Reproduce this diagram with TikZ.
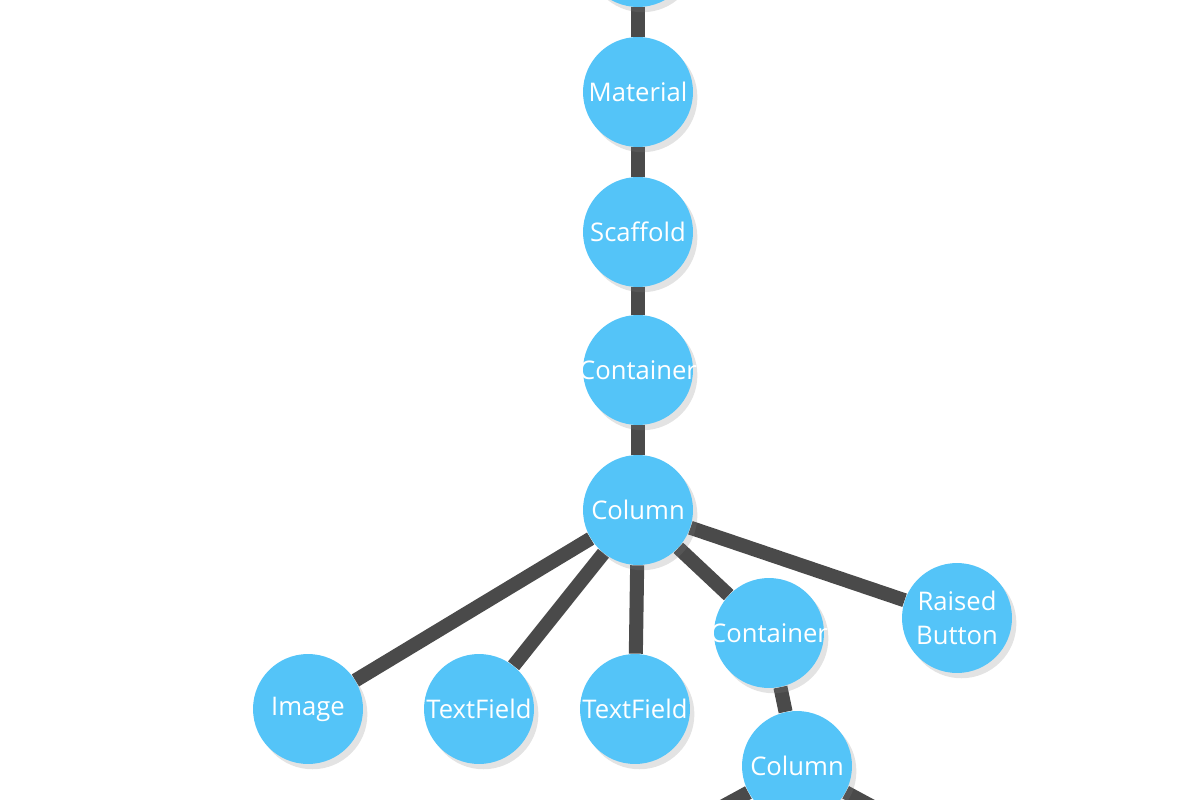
\documentclass[tikz,border=0pt]{standalone}
\usepackage{fontspec}
\setmainfont{Open Sans}
\usetikzlibrary{shadows,backgrounds}
\definecolor{widgetblue}{RGB}{84,196,248}
\definecolor{linkgray}{RGB}{74,74,74}
\begin{document}
\begin{tikzpicture}[x=0.02cm,y=-0.02cm,
        widget/.style={circle,fill=widgetblue,text=white,minimum size=2.2cm,inner sep=-8pt,
            font=\fontsize{14.6}{19}\selectfont,align=center,
            drop shadow={shadow xshift=2.5pt,shadow yshift=-3pt,opacity=0.22}},
        link/.style={draw=linkgray,line width=8pt}]
    \useasboundingbox (0,0) rectangle (1200,800) ;
    % main column of widgets
    \node [widget] (root) at (638,-48) {} ;
    \node [widget] (material) at (638,92) {Material} ;
    \node [widget] (scaffold) at (638,232) {Scaffold} ;
    \node [widget] (container) at (638,370) {Container} ;
    \node [widget] (column) at (638,510) {Column} ;
    % children of the column
    \node [widget] (image) at (308,709) {Image} ;
    \node [widget] (fieldA) at (479,709) {TextField} ;
    \node [widget] (fieldB) at (635,709) {TextField} ;
    \node [widget] (box) at (769,633) {Container} ;
    \node [widget] (button) at (957,618) {Raised\\Button} ;
    \node [widget] (inner) at (797,766) {Column} ;
    \coordinate (innerL) at (685,827) ;
    \coordinate (innerR) at (910,827) ;
    \begin{scope}[on background layer]
        \draw [link] (root) -- (material) ;
        \draw [link] (material) -- (scaffold) ;
        \draw [link] (scaffold) -- (container) ;
        \draw [link] (container) -- (column) ;
        \draw [link] (column) -- (image) ;
        \draw [link] (column) -- (fieldA) ;
        \draw [link] (column) -- (fieldB) ;
        \draw [link] (column) -- (box) ;
        \draw [link] (column) -- (button) ;
        \draw [link] (box) -- (inner) ;
        \draw [link] (inner) -- (innerL) ;
        \draw [link] (inner) -- (innerR) ;
    \end{scope}
\end{tikzpicture}
\end{document}
